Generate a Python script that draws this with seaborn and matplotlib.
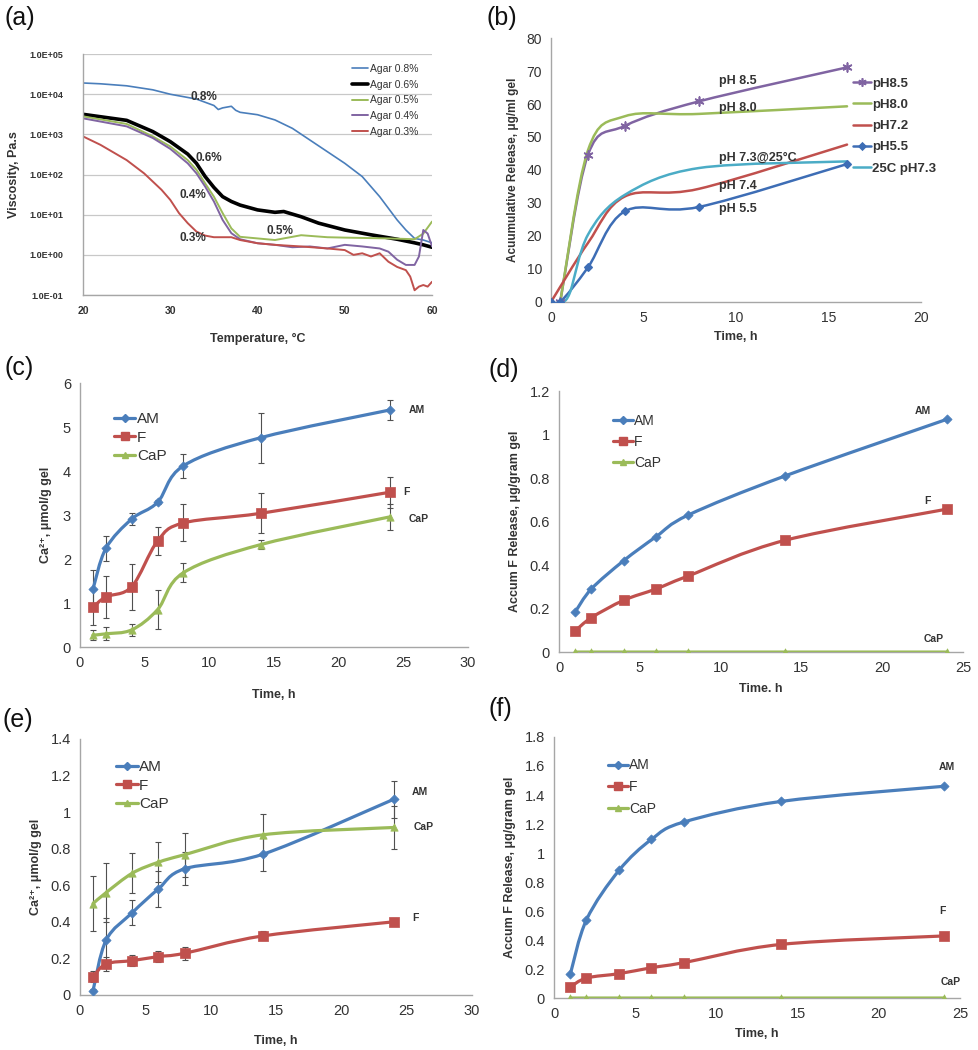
import numpy as np
import pandas as pd
import matplotlib
matplotlib.use('Agg')
import matplotlib.pyplot as plt
import seaborn as sns
from matplotlib.path import Path
from matplotlib.patches import PathPatch
from matplotlib.lines import Line2D

sns.set_style('white')
plt.rcParams['font.family'] = ['Liberation Sans', 'DejaVu Sans']

# colours (Excel-like)
BLUE = '#4a7ebb'
RED = '#c0504d'
GREEN = '#9bbb59'
PURPLE = '#8064a2'
CYAN = '#4bacc6'
DBLUE = '#3d6db5'
TXT = '#333333'
AXC = '#a6a6a6'

# ---------------- (a) viscosity vs temperature (log10 Pa.s) ----------------
t_08 = [20, 22, 25, 28, 30, 33, 35, 35.5, 36, 37, 37.5, 38, 40, 42, 44, 46, 48, 50, 52, 54, 55, 56, 57, 58, 59, 60]
lv_08 = [4.28, 4.26, 4.21, 4.11, 4.0, 3.88, 3.72, 3.62, 3.66, 3.70, 3.60, 3.55, 3.49, 3.36, 3.15, 2.86, 2.57, 2.28,
         1.95, 1.45, 1.16, 0.87, 0.62, 0.41, 0.37, 0.30]
t_06 = [20, 25, 28, 30, 32, 33, 34, 35, 36, 37, 38, 40, 42, 43, 45, 47, 50, 53, 56, 58, 59, 60]
lv_06 = [3.50, 3.35, 3.07, 2.82, 2.51, 2.28, 1.95, 1.68, 1.45, 1.33, 1.24, 1.12, 1.06, 1.08, 0.95, 0.79, 0.62, 0.50,
         0.39, 0.30, 0.25, 0.19]
t_05 = [20, 25, 28, 30, 32, 33, 34, 35, 36, 37, 38, 40, 42, 45, 48, 50, 55, 58, 59, 60]
lv_05 = [3.45, 3.26, 2.95, 2.70, 2.36, 2.12, 1.78, 1.45, 1.04, 0.66, 0.45, 0.41, 0.37, 0.49, 0.44, 0.43, 0.41, 0.39,
         0.53, 0.83]
t_04 = [20, 25, 28, 30, 32, 33, 34, 35, 36, 37, 38, 40, 42, 44, 46, 48, 50, 52, 54, 55, 56, 57, 58, 58.5, 59, 59.5, 60]
lv_04 = [3.40, 3.20, 2.91, 2.64, 2.28, 2.03, 1.70, 1.33, 0.87, 0.54, 0.39, 0.29, 0.25, 0.19, 0.21, 0.16, 0.25, 0.21,
         0.16, 0.08, -0.12, -0.25, -0.25, -0.04, 0.62, 0.53, 0.21]
t_03 = [20, 22, 25, 27, 29, 30, 31, 32, 33, 34, 35, 37, 38, 40, 42, 45, 48, 50, 51, 52, 53, 54, 55, 56, 57, 57.5,
        58, 58.5, 59, 59.5, 60]
lv_03 = [2.95, 2.74, 2.36, 2.03, 1.62, 1.37, 1.04, 0.79, 0.58, 0.48, 0.44, 0.44, 0.37, 0.29, 0.25, 0.21, 0.16, 0.12,
         0.0, 0.04, -0.04, 0.04, -0.17, -0.30, -0.38, -0.54, -0.88, -0.79, -0.75, -0.79, -0.67]
agar_labels = ['Agar 0.8%', 'Agar 0.6%', 'Agar 0.5%', 'Agar 0.4%', 'Agar 0.3%']
visc_ticks = ['1.0E-01', '1.0E+00', '1.0E+01', '1.0E+02', '1.0E+03', '1.0E+04', '1.0E+05']

# ---------------- (b) accumulative release vs time ----------------
b_x85 = [0.5, 2, 4, 8, 16]
b_y85 = [0, 44.6, 53.4, 60.8, 71.1]
b_x80 = [0.5, 2, 4, 8, 16]
b_y80 = [0, 46.0, 56.3, 57.0, 59.3]
b_x72 = [0, 2, 4, 8, 16]
b_y72 = [0, 17.9, 32.0, 34.3, 47.7]
b_x55 = [0, 0.5, 2, 4, 8, 16]
b_y55 = [0, 0, 10.5, 27.5, 28.8, 41.8]
b_x73 = [0.5, 1, 2, 4, 8, 16]
b_y73 = [0, 2.5, 20.4, 32.5, 40.6, 42.6]

# ---------------- (c)-(f) time points ----------------
hours = [1, 2, 4, 6, 8, 14, 24]

c_am = [1.31, 2.24, 2.91, 3.29, 4.12, 4.76, 5.39]
c_am_err = [0.45, 0.28, 0.14, 0.05, 0.27, 0.57, 0.22]
c_f = [0.90, 1.14, 1.37, 2.41, 2.82, 3.04, 3.52]
c_f_err = [0.40, 0.48, 0.52, 0.31, 0.42, 0.45, 0.35]
c_cap = [0.27, 0.30, 0.39, 0.85, 1.69, 2.33, 2.96]
c_cap_err = [0.12, 0.15, 0.14, 0.44, 0.21, 0.10, 0.30]

d_am = [0.184, 0.29, 0.42, 0.53, 0.63, 0.81, 1.07]
d_f = [0.097, 0.158, 0.238, 0.29, 0.35, 0.514, 0.657]
d_cap = [0, 0, 0, 0, 0, 0, 0]

e_am = [0.024, 0.30, 0.45, 0.58, 0.69, 0.77, 1.07]
e_am_err = [0.01, 0.12, 0.07, 0.10, 0.09, 0.09, 0.10]
e_f = [0.10, 0.17, 0.188, 0.21, 0.228, 0.323, 0.40]
e_f_err = [0.03, 0.04, 0.03, 0.03, 0.035, 0.025, 0.02]
e_cap = [0.50, 0.56, 0.666, 0.726, 0.767, 0.876, 0.916]
e_cap_err = [0.15, 0.16, 0.11, 0.11, 0.12, 0.115, 0.12]

f_am = [0.163, 0.54, 0.88, 1.094, 1.214, 1.356, 1.46]
f_f = [0.076, 0.138, 0.168, 0.209, 0.244, 0.37, 0.428]
f_cap = [0, 0, 0, 0, 0, 0, 0]

series_names = ['AM', 'F', 'CaP']


def smooth_line(ax, x, y, color, lw=2.3, zorder=3):
    # Excel-style smoothed line (Catmull-Rom as cubic Bezier segments)
    pts = np.column_stack([x, y]).astype(float)
    n = len(pts)
    verts = [pts[0]]
    codes = [Path.MOVETO]
    for i in range(n - 1):
        p0 = pts[i - 1] if i > 0 else pts[i]
        p1 = pts[i]
        p2 = pts[i + 1]
        p3 = pts[i + 2] if i + 2 < n else pts[i + 1]
        verts += [p1 + (p2 - p0) / 6.0, p2 - (p3 - p1) / 6.0, p2]
        codes += [Path.CURVE4] * 3
    ax.add_patch(PathPatch(Path(verts, codes), fill=False, edgecolor=color, lw=lw,
                           zorder=zorder, capstyle='round', joinstyle='round'))


def style_axes(ax, fs):
    sns.despine(ax=ax)
    for s in ['left', 'bottom']:
        ax.spines[s].set_color(AXC)
        ax.spines[s].set_linewidth(1.0)
    ax.tick_params(axis='both', labelsize=fs, colors=TXT, length=3, width=0.8, direction='out')
    ax.tick_params(axis='both', color=AXC)


def series_legend(ax, anchor, fs, spacing):
    handles = [Line2D([0], [0], color=BLUE, marker='D', markersize=4, lw=2.3),
               Line2D([0], [0], color=RED, marker='s', markersize=5.5, lw=2.3),
               Line2D([0], [0], color=GREEN, marker='^', markersize=4.5, lw=2.3)]
    leg = ax.legend(handles, series_names, loc='upper left', bbox_to_anchor=anchor, frameon=False,
                    fontsize=fs, handlelength=1.4, handletextpad=0.1, labelspacing=spacing, borderpad=0.2)
    for t in leg.get_texts():
        t.set_color(TXT)


def draw_series(ax, am, f, cap, am_err=None, f_err=None, cap_err=None):
    for vals, err, col, mk, ms in [(am, am_err, BLUE, 'D', 22),
                                    (f, f_err, RED, 's', 45),
                                    (cap, cap_err, GREEN, '^', 28)]:
        smooth_line(ax, hours, vals, col)
        if err is not None:
            ax.errorbar(hours, vals, yerr=err, fmt='none', ecolor='#505050', elinewidth=0.8,
                        capsize=2.5, capthick=0.8, zorder=2)
        sns.scatterplot(x=hours, y=vals, marker=mk, s=ms, color=col, edgecolor=col, linewidth=0.5,
                        ax=ax, zorder=4, legend=False)


fig = plt.figure(figsize=(9.79, 10.5), dpi=100)
lab_kw = dict(fontsize=9, fontweight='bold', color=TXT)
end_kw = dict(fontsize=7.5, fontweight='bold', color=TXT)

# ---------- panel a ----------
ax_a = fig.add_axes([0.0848, 0.719, 0.3565, 0.2295])
rows = []
for name, tt, lv in zip(agar_labels, [t_08, t_06, t_05, t_04, t_03], [lv_08, lv_06, lv_05, lv_04, lv_03]):
    for ti, li in zip(tt, lv):
        rows.append({'T': ti, 'visc': 10 ** li, 'agar': name})
df_a = pd.DataFrame(rows)
sns.lineplot(data=df_a, x='T', y='visc', hue='agar', size='agar', sizes=[1.2, 2.6, 1.4, 1.4, 1.4],
             palette=[BLUE, 'black', GREEN, PURPLE, RED], ax=ax_a, estimator=None, sort=False)
ax_a.set_yscale('log')
ax_a.set_ylim(0.1, 1e5)
ax_a.set_xlim(20, 60)
ax_a.set_yticks([10.0 ** k for k in range(-1, 6)])
ax_a.set_yticklabels(visc_ticks)
ax_a.minorticks_off()
ax_a.set_xticks([20, 30, 40, 50, 60])
ax_a.grid(axis='y', color='#c8c8c8', lw=0.9)
style_axes(ax_a, 6.5)
ax_a.tick_params(axis='x', labelsize=7.5, pad=5)
for lbl in ax_a.get_xticklabels() + ax_a.get_yticklabels():
    lbl.set_fontweight('bold')
ax_a.tick_params(axis='y', length=0, pad=14)
ax_a.set_xlabel('Temperature, \u00b0C', labelpad=12, **lab_kw)
ax_a.set_ylabel('Viscosity, Pa.s', labelpad=7, **lab_kw)
leg = ax_a.legend(loc='upper left', bbox_to_anchor=(0.75, 0.99), frameon=False, fontsize=7.5,
                  handlelength=1.5, handletextpad=0.2, labelspacing=0.55, borderpad=0.2)
for t in leg.get_texts():
    t.set_color(TXT)
for txt, xx, yy in [('0.8%', 33.8, 3.94), ('0.6%', 34.4, 2.41), ('0.4%', 32.6, 1.49),
                    ('0.5%', 42.6, 0.60), ('0.3%', 32.6, 0.41)]:
    ax_a.text(xx, 10 ** yy, txt, ha='center', va='center', fontsize=8.5, fontweight='bold', color=TXT)

# ---------- panel b ----------
ax_b = fig.add_axes([0.5628, 0.7124, 0.378, 0.2514])
b_series = [('pH8.5', b_x85, b_y85, PURPLE, (6, 2, 0), 40),
            ('pH8.0', b_x80, b_y80, GREEN, None, 0),
            ('pH7.2', b_x72, b_y72, RED, None, 0),
            ('pH5.5', b_x55, b_y55, DBLUE, 'D', 14),
            ('25C pH7.3', b_x73, b_y73, CYAN, None, 0)]
handles_b = []
for name, xx, yy, col, mk, ms in b_series:
    smooth_line(ax_b, xx, yy, col, lw=1.8)
    if mk is not None:
        sns.scatterplot(x=xx, y=yy, marker=mk, s=ms, color=col, edgecolor=col, linewidth=1.2,
                        ax=ax_b, zorder=4, legend=False)
    handles_b.append(Line2D([0], [0], color=col, lw=1.8, marker=mk if mk is not None else None,
                            markersize=6 if mk == (6, 2, 0) else 3.5, markeredgewidth=1.2))
ax_b.set_xlim(0, 20)
ax_b.set_ylim(0, 80)
ax_b.set_xticks([0, 5, 10, 15, 20])
ax_b.set_yticks(range(0, 81, 10))
style_axes(ax_b, 10)
ax_b.set_xlabel('Time, h', labelpad=4, **lab_kw)
ax_b.set_ylabel('Acuumulative Release, \u03bcg/ml gel', labelpad=5, fontsize=8.5, fontweight='bold', color=TXT)
leg = ax_b.legend(handles_b, [s[0] for s in b_series], loc='upper left', bbox_to_anchor=(0.79, 0.885),
                  frameon=False, handlelength=1.4, handletextpad=0.1, labelspacing=0.68,
                  borderpad=0.2, prop={'weight': 'bold', 'size': 9.5})
for t in leg.get_texts():
    t.set_color(TXT)
for txt, yy in [('pH 8.5', 66.9), ('pH 8.0', 58.8), ('pH 7.3@25\u00b0C', 43.6), ('pH 7.4', 35.0), ('pH 5.5', 28.2)]:
    ax_b.text(9.1, yy, txt, ha='left', va='center', fontsize=9, fontweight='bold', color=TXT)

# ---------- panel c ----------
ax_c = fig.add_axes([0.0817, 0.3838, 0.3963, 0.2514])
draw_series(ax_c, c_am, c_f, c_cap, c_am_err, c_f_err, c_cap_err)
ax_c.set_xlim(0, 30)
ax_c.set_ylim(0, 6)
ax_c.set_xticks(range(0, 31, 5))
ax_c.set_yticks(range(0, 7))
style_axes(ax_c, 10.5)
ax_c.set_xlabel('Time, h', labelpad=14, **lab_kw)
ax_c.set_ylabel('Ca\u00b2\u207a, \u03bcmol/g gel', labelpad=8, **lab_kw)
series_legend(ax_c, (0.06, 0.93), 11, 0.3)
for txt, xx, yy in [('AM', 25.4, 5.39), ('F', 25.0, 3.53), ('CaP', 25.4, 2.9)]:
    ax_c.text(xx, yy, txt, ha='left', va='center', **end_kw)

# ---------- panel d ----------
ax_d = fig.add_axes([0.571, 0.379, 0.4127, 0.2486])
draw_series(ax_d, d_am, d_f, d_cap)
ax_d.set_xlim(0, 25)
ax_d.set_ylim(0, 1.2)
ax_d.set_xticks(range(0, 26, 5))
ax_d.set_yticks([0, 0.2, 0.4, 0.6, 0.8, 1, 1.2])
ax_d.set_yticklabels(['0', '0.2', '0.4', '0.6', '0.8', '1', '1.2'])
style_axes(ax_d, 10.5)
ax_d.set_xlabel('Time. h', labelpad=6, **lab_kw)
ax_d.set_ylabel('Accum F Release, \u03bcg/gram gel', labelpad=6, **lab_kw)
series_legend(ax_d, (0.11, 0.95), 10, 0.5)
for txt, xx, yy in [('AM', 22.5, 1.11), ('F', 22.8, 0.695), ('CaP', 23.2, 0.06)]:
    ax_d.text(xx, yy, txt, ha='center', va='center', **end_kw)

# ---------- panel e ----------
ax_e = fig.add_axes([0.0817, 0.0524, 0.4004, 0.2438])
draw_series(ax_e, e_am, e_f, e_cap, e_am_err, e_f_err, e_cap_err)
ax_e.set_xlim(0, 30)
ax_e.set_ylim(0, 1.4)
ax_e.set_xticks(range(0, 31, 5))
ax_e.set_yticks([0, 0.2, 0.4, 0.6, 0.8, 1, 1.2, 1.4])
ax_e.set_yticklabels(['0', '0.2', '0.4', '0.6', '0.8', '1', '1.2', '1.4'])
style_axes(ax_e, 10.5)
ax_e.set_xlabel('Time, h', labelpad=12, **lab_kw)
ax_e.set_ylabel('Ca\u00b2\u207a, \u03bcmol/g gel', labelpad=6, **lab_kw)
series_legend(ax_e, (0.065, 0.96), 11, 0.3)
for txt, xx, yy in [('AM', 25.4, 1.11), ('CaP', 25.5, 0.916), ('F', 25.4, 0.42)]:
    ax_e.text(xx, yy, txt, ha='left', va='center', **end_kw)

# ---------- panel f ----------
ax_f = fig.add_axes([0.5659, 0.0495, 0.4147, 0.2486])
draw_series(ax_f, f_am, f_f, f_cap)
ax_f.set_xlim(0, 25)
ax_f.set_ylim(0, 1.8)
ax_f.set_xticks(range(0, 26, 5))
ax_f.set_yticks([0, 0.2, 0.4, 0.6, 0.8, 1, 1.2, 1.4, 1.6, 1.8])
ax_f.set_yticklabels(['0', '0.2', '0.4', '0.6', '0.8', '1', '1.2', '1.4', '1.6', '1.8'])
style_axes(ax_f, 10.5)
ax_f.set_xlabel('Time, h', labelpad=5, **lab_kw)
ax_f.set_ylabel('Accum F Release, \u03bcg/gram gel', labelpad=6, **lab_kw)
series_legend(ax_f, (0.11, 0.955), 10, 0.55)
for txt, xx, yy in [('AM', 24.2, 1.59), ('F', 23.9, 0.60), ('CaP', 24.4, 0.11)]:
    ax_f.text(xx, yy, txt, ha='center', va='center', **end_kw)

# panel letters
for letter, fx, fy in [('(a)', 5, 6), ('(b)', 487, 6), ('(c)', 5, 356), ('(d)', 489, 358),
                       ('(e)', 3, 708), ('(f)', 489, 697)]:
    fig.text(fx / 979, 1 - fy / 1050, letter, ha='left', va='top', fontsize=18, color='#111111')

fig.savefig('out.png', dpi=100)
